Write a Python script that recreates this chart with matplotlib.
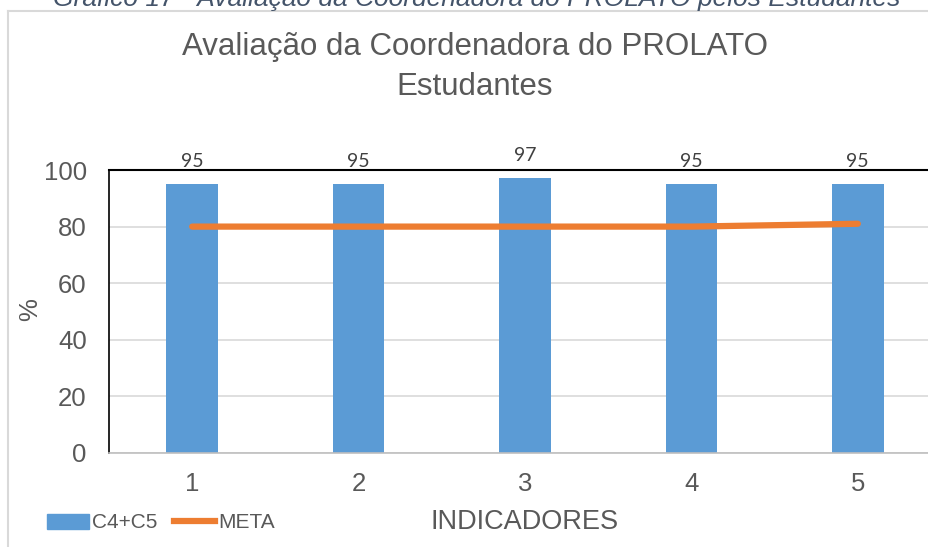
import numpy as np
import matplotlib
matplotlib.use('Agg')
from matplotlib import pyplot as plt
from matplotlib.lines import Line2D
from matplotlib.patches import Patch

# dados
indicadores = [1, 2, 3, 4, 5]
c4_c5 = [95, 95, 97, 95, 95]
meta = [80, 80, 80, 80, 81]

plt.rcParams['font.family'] = ['Liberation Sans', 'DejaVu Sans']
cinza = '#595959'

fig = plt.figure(figsize=(9.29, 5.47), dpi=100)
ax = fig.add_axes([109 / 929, 1 - 453 / 547, 832 / 929, 283 / 547])

x = np.array(indicadores)
ax.bar(x, c4_c5, width=0.31, color='#5b9bd5', zorder=2)
ax.plot(x, meta, color='#ed7d31', lw=4.5, solid_capstyle='round', zorder=3)

for xi, v in zip(x, c4_c5):
    ax.text(xi, v + 5, str(v), ha='center', va='bottom', fontsize=14,
            color='#404040', family=['Lato', 'DejaVu Sans'])

ax.set_xlim(0.5, 5.5)
ax.set_ylim(0, 100)
ax.set_yticks(range(0, 101, 20))
ax.set_xticks(indicadores)
ax.yaxis.grid(True, color='#d9d9d9', lw=1.2, zorder=0)
ax.set_axisbelow(True)
ax.tick_params(length=0, labelsize=18.5, colors=cinza)
ax.tick_params(axis='x', pad=14)
ax.tick_params(axis='y', pad=16)
ax.spines['right'].set_visible(False)
ax.spines['top'].set_color('black')
ax.spines['top'].set_linewidth(1.5)
ax.spines['left'].set_color('black')
ax.spines['left'].set_linewidth(1.2)
ax.spines['bottom'].set_color('#bfbfbf')
ax.spines['bottom'].set_linewidth(1.2)

fig.text(30 / 929, 1 - 310 / 547, '%', rotation=90, ha='center', va='center',
         fontsize=18.5, color=cinza)
fig.text(525 / 929, 1 - 522 / 547, 'INDICADORES', ha='center', va='center',
         fontsize=19.5, color=cinza)

fig.text(475 / 929, 1 - 47 / 547, 'Avaliação da Coordenadora do PROLATO',
         ha='center', va='center', fontsize=22.5, color=cinza)
fig.text(475 / 929, 1 - 87 / 547, 'Estudantes',
         ha='center', va='center', fontsize=22.5, color=cinza)

# legenda
fig.legend(handles=[Patch(color='#5b9bd5', label='C4+C5'),
                    Line2D([], [], color='#ed7d31', lw=4.5, label='META')],
           loc='center left', bbox_to_anchor=(47 / 929, 1 - 523 / 547),
           ncol=2, frameon=False, fontsize=15, handlelength=2.0,
           handletextpad=0.15, columnspacing=0.8, labelcolor=cinza,
           borderpad=0, borderaxespad=0)

# legenda do gráfico cortada no topo
fig.text(477 / 929, 1 - 6 / 547,
         'Gráfico 17 - Avaliação da Coordenadora do PROLATO pelos Estudantes',
         ha='center', va='baseline', fontsize=19, style='italic', color='#44546a')

# moldura do gráfico
fig.add_artist(Line2D([8 / 929, 8 / 929], [0, 1 - 11 / 547], color='#d9d9d9', lw=1.5))
fig.add_artist(Line2D([8 / 929, 1], [1 - 11 / 547, 1 - 11 / 547], color='#d9d9d9', lw=1.5))

plt.savefig('out.png', dpi=100)
